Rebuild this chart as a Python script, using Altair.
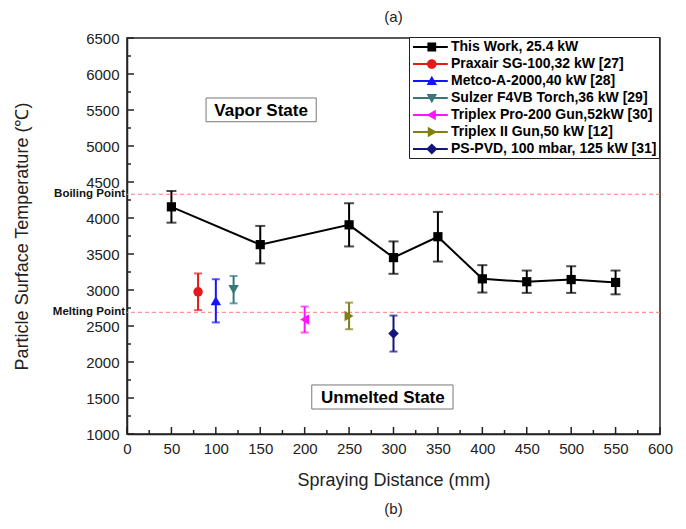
import altair as alt
import pandas as pd

# ---------------- data ----------------
series_names = [
    "This Work, 25.4 kW",
    "Praxair SG-100,32 kW [27]",
    "Metco-A-2000,40 kW [28]",
    "Sulzer F4VB Torch,36 kW [29]",
    "Triplex Pro-200 Gun,52kW [30]",
    "Triplex II Gun,50 kW [12]",
    "PS-PVD, 100 mbar, 125 kW [31]",
]
series_colors = ["#000000", "#e3191c", "#1414ff", "#357878", "#ff14ff", "#7f7f14", "#14147f"]
series_shapes = ["square", "circle", "triangle-up", "triangle-down",
                 "triangle-left", "triangle-right", "diamond"]

# This Work
tw_x = [50, 150, 250, 300, 350, 400, 450, 500, 550]
tw_y = [4155, 3630, 3905, 3450, 3740, 3155, 3115, 3145, 3105]
tw_err = [220, 260, 300, 225, 345, 190, 155, 185, 165]

# literature points (one each)
ref_x = [80, 100, 120, 200, 250, 300]
ref_y = [2975, 2850, 3005, 2590, 2640, 2395]
ref_err = [255, 300, 190, 180, 185, 250]

ref_line_y = [4330, 2690]
ref_line_labels = ["Boiling Point", "Melting Point"]

state_labels = ["Vapor State", "Unmelted State"]
state_x = [151, 288]
state_y = [5500, 1514]
state_x1 = [89, 208]
state_x2 = [213, 367]
state_y1 = [5337, 1347]
state_y2 = [5667, 1681]

x_major = list(range(0, 601, 50))
x_minor = list(range(25, 600, 50))
y_major = list(range(1000, 6501, 500))
y_minor = list(range(1250, 6500, 500))

W, H = 533, 396
FONT = "Liberation Sans"

X_AX = alt.Axis(values=x_major, format="d", ticks=False, grid=False, labelFlush=False,
                labelFontSize=15, labelFont=FONT, labelColor="#222", labelPadding=7,
                title="Spraying Distance (mm)", titleFont=FONT, titleFontSize=18,
                titleFontWeight="normal", titleColor="#222",
                titleBaseline="middle", titleY=46)
Y_AX = alt.Axis(values=y_major, format="d", ticks=False, grid=False, labelFlush=False,
                labelFontSize=15, labelFont=FONT, labelColor="#222", labelPadding=8,
                title="Particle Surface Temperature (℃)", titleFont=FONT, titleFontSize=18,
                titleFontWeight="normal", titleColor="#222",
                titleBaseline="middle", titleX=-105, titleY=H / 2, titleAngle=-90)
XS = alt.Scale(domain=[0, 600], nice=False)
YS = alt.Scale(domain=[1000, 6500], nice=False)


def X(f):
    return alt.X(f, type="quantitative", scale=XS, axis=X_AX)


def Y(f):
    return alt.Y(f, type="quantitative", scale=YS, axis=Y_AX)


layers = []

# reference dashed lines
ref_df = pd.DataFrame({"y": ref_line_y, "label": ref_line_labels})
layers.append(alt.Chart(ref_df).mark_rule(color="#ff7a7a", strokeDash=[4, 3], strokeWidth=1)
              .encode(y=Y("y")))
layers.append(alt.Chart(ref_df).mark_text(align="right", baseline="middle", dy=0,
                                          font=FONT, fontSize=11.5, fontWeight="bold", color="#111")
              .encode(y=Y("y"), x=alt.value(-2), text="label:N"))

# state boxes
st_df = pd.DataFrame({"label": state_labels, "x": state_x, "y": state_y,
                      "x1": state_x1, "x2": state_x2, "y1": state_y1, "y2": state_y2})
layers.append(alt.Chart(st_df).mark_rect(fill="white", stroke="#777", strokeWidth=1)
              .encode(x=X("x1"), x2="x2", y=Y("y1"), y2="y2"))
layers.append(alt.Chart(st_df).mark_text(font=FONT, fontSize=17, fontWeight="bold",
                                         color="#000", baseline="middle", dy=1)
              .encode(x=X("x"), y=Y("y"), text="label:N"))

# inward ticks
layers.append(alt.Chart(pd.DataFrame({"t": x_major})).mark_rule(color="#222", strokeWidth=1.5)
              .encode(x=X("t"), y=alt.value(H), y2=alt.value(H - 7)))
layers.append(alt.Chart(pd.DataFrame({"t": x_minor})).mark_rule(color="#222", strokeWidth=1.5)
              .encode(x=X("t"), y=alt.value(H), y2=alt.value(H - 4)))
layers.append(alt.Chart(pd.DataFrame({"t": y_major})).mark_rule(color="#222", strokeWidth=1.5)
              .encode(y=Y("t"), x=alt.value(0), x2=alt.value(7)))
layers.append(alt.Chart(pd.DataFrame({"t": y_minor})).mark_rule(color="#222", strokeWidth=1.5)
              .encode(y=Y("t"), x=alt.value(0), x2=alt.value(4)))


def series_layers(xs, ys, errs, color, shape, cap, msize, line=False):
    df = pd.DataFrame({"x": xs, "y": ys,
                       "lo": [a - b for a, b in zip(ys, errs)],
                       "hi": [a + b for a, b in zip(ys, errs)]})
    base = alt.Chart(df)
    out = []
    if line:
        out.append(base.mark_line(color=color, strokeWidth=2).encode(x=X("x"), y=Y("y")))
    out.append(base.mark_rule(color=color, strokeWidth=2).encode(x=X("x"), y=Y("lo"), y2="hi"))
    out.append(base.mark_tick(color=color, orient="horizontal", size=cap, thickness=2)
               .encode(x=X("x"), y=Y("lo")))
    out.append(base.mark_tick(color=color, orient="horizontal", size=cap, thickness=2)
               .encode(x=X("x"), y=Y("hi")))
    out.append(base.mark_point(shape=shape, filled=True, color=color, size=msize, opacity=1)
               .encode(x=X("x"), y=Y("y")))
    return out


layers += series_layers(tw_x, tw_y, tw_err, series_colors[0], series_shapes[0], 10, 85, line=True)
for i in range(len(ref_x)):
    sz = 90 if series_shapes[i + 1] in ("circle", "square") else 110
    layers += series_layers([ref_x[i]], [ref_y[i]], [ref_err[i]],
                            series_colors[i + 1], series_shapes[i + 1], 8, sz)


# legend symbols: line + marker as custom paths
def legend_path(shape):
    cx = 1.6
    ln = "M-0.75,-0.13H3.6V0.13H-0.75Z"
    if shape == "square":
        m = f"M{cx-0.55},-0.55H{cx+0.55}V0.55H{cx-0.55}Z"
    elif shape == "circle":
        m = f"M{cx-0.6},0A0.6,0.6 0 1,1 {cx+0.6},0A0.6,0.6 0 1,1 {cx-0.6},0Z"
    elif shape == "triangle-up":
        m = f"M{cx},-0.65L{cx+0.65},0.5L{cx-0.65},0.5Z"
    elif shape == "triangle-down":
        m = f"M{cx},0.65L{cx-0.65},-0.5L{cx+0.65},-0.5Z"
    elif shape == "triangle-left":
        m = f"M{cx-0.65},0L{cx+0.5},-0.65L{cx+0.5},0.65Z"
    elif shape == "triangle-right":
        m = f"M{cx+0.65},0L{cx-0.5},0.65L{cx-0.5},-0.65Z"
    else:
        m = f"M{cx},-0.7L{cx+0.7},0L{cx},0.7L{cx-0.7},0Z"
    return ln + m


leg_df = pd.DataFrame({"series": series_names, "x": [-100] * 7, "y": [1000] * 7})
legend = alt.Legend(title=None, orient="none", legendX=282, legendY=-1,
                    strokeColor="#222", fillColor="white", padding=2,
                    labelFont=FONT, labelFontSize=14, labelFontWeight="bold",
                    labelColor="#000", rowPadding=2, labelOffset=24,
                    symbolSize=256, symbolStrokeWidth=0, labelLimit=400)
layers.append(alt.Chart(leg_df).mark_point(filled=True, size=256, opacity=1, clip=True)
              .encode(x=X("x"), y=Y("y"),
                      color=alt.Color("series:N", scale=alt.Scale(domain=series_names, range=series_colors),
                                      legend=legend),
                      shape=alt.Shape("series:N", scale=alt.Scale(domain=series_names,
                                                                  range=[legend_path(s) for s in series_shapes]),
                                      legend=legend)))

# "(b)" label below
layers.append(alt.Chart(pd.DataFrame({"t": ["(b)"]})).mark_text(font=FONT, fontSize=15, color="#222",
                                                                baseline="middle")
              .encode(x=alt.value(W / 2), y=alt.value(471), text="t:N"))

chart = alt.layer(*layers).properties(
    width=W, height=H,
    title=alt.TitleParams("(a)", font=FONT, fontSize=15, fontWeight="normal", color="#222",
                          anchor="middle", offset=6),
    autosize=alt.AutoSizeParams(type="none"),
    padding={"left": 119, "top": 30, "right": 18, "bottom": 86},
).configure_view(stroke="#222", strokeWidth=1.5).configure_axis(
    domainColor="#222", domainWidth=1.5
)

chart.save("out.html", embed_options={"renderer": "svg", "actions": False})
